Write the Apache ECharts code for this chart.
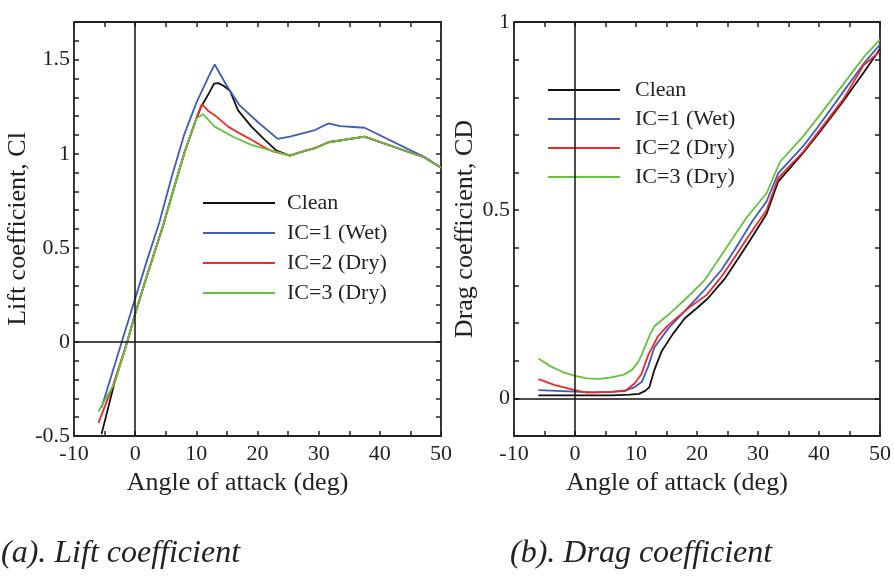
<!DOCTYPE html>
<html>
<head>
<meta charset="utf-8">
<script src="https://cdn.jsdelivr.net/npm/echarts@6/dist/echarts.min.js"></script>
<style>
html,body{margin:0;padding:0;background:#fff;}
#chart{width:894px;height:578px;}
</style>
</head>
<body>
<div id="chart"></div>
<script>
// ---------- Data ----------
var seriesNames = ['Clean', 'IC=1 (Wet)', 'IC=2 (Dry)', 'IC=3 (Dry)'];
var xTickLabels = [-10, 0, 10, 20, 30, 40, 50];
var liftTickLabels = [-0.5, 0, 0.5, 1, 1.5];
var dragTickLabels = [0, 0.5, 1];

// Lift coefficient (a)
var liftCleanAoA = [-5.5, -3.3, -1.3, 0, 2, 4.3, 6, 8.1, 10, 10.8, 12.2, 12.9, 13.6, 14.5, 15.5, 16.8, 19, 21.2, 23.1, 25.3, 27.7, 29.4, 31.6, 37.5, 47.3, 50];
var liftClean    = [-0.49, -0.207, 0, 0.15, 0.36, 0.59, 0.78, 1.01, 1.187, 1.25, 1.33, 1.372, 1.375, 1.36, 1.335, 1.232, 1.144, 1.074, 1.016, 0.99, 1.015, 1.03, 1.061, 1.091, 0.98, 0.925];
var liftIC1AoA   = [-5.5, -2.2, 0, 2, 4, 6, 8, 10, 12, 13, 15, 17, 20, 23.3, 25.3, 27.5, 29.4, 31.6, 33.5, 37.5, 47.3, 50];
var liftIC1      = [-0.35, 0, 0.23, 0.44, 0.64, 0.88, 1.1, 1.27, 1.41, 1.474, 1.36, 1.26, 1.17, 1.079, 1.091, 1.11, 1.126, 1.161, 1.147, 1.138, 0.982, 0.927];
var liftIC2AoA   = [-6, -3.6, -1.3, 0, 2, 4.3, 6, 8.1, 10, 10.9, 12, 13, 15.2, 17.1, 19, 20.9, 22.5, 25.3, 27.7, 29.4, 31.6, 37.5, 47.3, 50];
var liftIC2      = [-0.43, -0.23, 0, 0.15, 0.36, 0.59, 0.78, 1.01, 1.187, 1.263, 1.226, 1.205, 1.144, 1.108, 1.074, 1.038, 1.012, 0.99, 1.015, 1.03, 1.061, 1.091, 0.98, 0.925];
var liftIC3AoA   = [-6, -3.3, -1.3, 0, 2, 4.3, 6, 8.1, 10, 11.1, 13, 16, 19, 23.1, 25.3, 27.7, 29.4, 31.6, 37.5, 47.3, 50];
var liftIC3      = [-0.37, -0.216, 0, 0.15, 0.36, 0.59, 0.78, 1.01, 1.187, 1.21, 1.144, 1.09, 1.047, 1.01, 0.99, 1.015, 1.03, 1.061, 1.091, 0.98, 0.925];

// Drag coefficient (b)
var dragCleanAoA = [-6, -2, 2, 6, 9, 10.5, 11.5, 12.2, 13, 14.2, 16, 18, 20, 21.8, 24.6, 26.7, 28.7, 31.4, 33.3, 37.4, 40, 44, 47.5, 50];
var dragClean    = [0.008, 0.008, 0.008, 0.008, 0.01, 0.012, 0.02, 0.03, 0.075, 0.125, 0.17, 0.213, 0.24, 0.266, 0.319, 0.37, 0.42, 0.49, 0.576, 0.652, 0.705, 0.79, 0.87, 0.928];
var dragIC1AoA   = [-6, -3, 0, 3, 6, 8.5, 9.8, 11, 12, 13, 15.3, 17, 19, 21, 24, 26, 29.2, 31.4, 33.3, 37.4, 40, 44, 47.5, 50];
var dragIC1      = [0.022, 0.02, 0.018, 0.016, 0.017, 0.022, 0.03, 0.045, 0.085, 0.135, 0.186, 0.215, 0.25, 0.284, 0.341, 0.39, 0.474, 0.523, 0.598, 0.67, 0.725, 0.815, 0.893, 0.94];
var dragIC2AoA   = [-6, -3.3, 0, 1.9, 6, 8.2, 9.8, 10.9, 12, 13.6, 15, 16.9, 19, 21.6, 24, 26, 28, 29.5, 31.4, 33.3, 37.4, 40, 44, 47.3, 50];
var dragIC2      = [0.051, 0.035, 0.022, 0.015, 0.017, 0.019, 0.04, 0.065, 0.115, 0.165, 0.19, 0.217, 0.245, 0.275, 0.323, 0.37, 0.42, 0.456, 0.5, 0.585, 0.655, 0.71, 0.795, 0.885, 0.922];
var dragIC3AoA   = [-6, -4, -2, 0, 2, 4, 6, 8, 9.3, 10.3, 10.9, 12.3, 13.1, 15.3, 18, 21.3, 24.4, 28.1, 31.4, 33.6, 37.4, 40, 44, 47.5, 50];
var dragIC3      = [0.106, 0.085, 0.07, 0.06, 0.053, 0.052, 0.056, 0.063, 0.075, 0.095, 0.115, 0.17, 0.193, 0.222, 0.262, 0.315, 0.39, 0.48, 0.545, 0.628, 0.696, 0.75, 0.835, 0.91, 0.953];

// ---------- Build ----------
var colors = ['#111111', '#3d5cbc', '#f02828', '#66c23e'];
var FONT = '"Liberation Serif", "Times New Roman", serif';
var TXT = '#222';

function zip(a, b) { return a.map(function (x, i) { return [x, b[i]]; }); }
function inList(list, v) { return list.some(function (t) { return Math.abs(t - v) < 1e-6; }); }

var tickStyle = { show: true, inside: true, length: 5, lineStyle: { color: '#222', width: 1.5 } };

function xAxisMain(gi) {
  return {
    type: 'value', gridIndex: gi, min: -10, max: 50, interval: 5, position: 'bottom',
    axisLine: { show: false, onZero: false }, splitLine: { show: false },
    axisTick: tickStyle,
    axisLabel: { margin: 7, fontSize: 22, fontFamily: FONT, color: TXT,
      formatter: function (v) { return inList(xTickLabels, v) ? String(Math.round(v)) : ''; } },
    name: 'Angle of attack (deg)', nameLocation: 'middle', nameGap: 27,
    nameTextStyle: { fontSize: 26, fontFamily: FONT, color: TXT, padding: [0, 40, 0, 0] }
  };
}
function xAxisTop(gi) {
  return {
    type: 'value', gridIndex: gi, min: -10, max: 50, interval: 5, position: 'top',
    axisLine: { show: false, onZero: false }, splitLine: { show: false }, axisLabel: { show: false },
    axisTick: tickStyle
  };
}
function yAxisMain(gi, min, max, labels, name, gap) {
  return {
    type: 'value', gridIndex: gi, min: min, max: max, interval: 0.1, position: 'left',
    axisLine: { show: false, onZero: false }, splitLine: { show: false },
    axisTick: tickStyle,
    axisLabel: { margin: 4, fontSize: 22, fontFamily: FONT, color: TXT,
      formatter: function (v) { return inList(labels, v) ? String(Math.round(v * 10) / 10) : ''; } },
    name: name, nameLocation: 'middle', nameRotate: 90, nameGap: gap,
    nameTextStyle: { fontSize: 26, fontFamily: FONT, color: TXT }
  };
}
function yAxisRight(gi, min, max) {
  return {
    type: 'value', gridIndex: gi, min: min, max: max, interval: 0.1, position: 'right',
    axisLine: { show: false, onZero: false }, splitLine: { show: false }, axisLabel: { show: false },
    axisTick: tickStyle
  };
}
function lineSeries(name, data, ci, xi, yi, withZero) {
  var s = {
    type: 'line', name: name, xAxisIndex: xi, yAxisIndex: yi, data: data,
    symbol: 'none', showSymbol: false, smooth: false, animation: false,
    color: colors[ci], lineStyle: { color: colors[ci], width: 1.8 }
  };
  if (withZero) {
    s.markLine = {
      silent: true, symbol: ['none', 'none'], animation: false,
      label: { show: false },
      lineStyle: { color: '#111', width: 1.5, type: 'solid' },
      data: [{ xAxis: 0 }, { yAxis: 0 }]
    };
  }
  return s;
}
function legendFor(left, top, gap, textPad) {
  return {
    orient: 'vertical', left: left, top: top, padding: 0, itemGap: gap,
    itemWidth: 72, itemHeight: 2, icon: 'rect', selectedMode: false,
    textStyle: { fontSize: 22, fontFamily: FONT, color: TXT, padding: [0, 0, 0, textPad] },
    data: seriesNames
  };
}
var captionStyle = { fontSize: 32, fontStyle: 'italic', fontWeight: 'normal', fontFamily: FONT, color: TXT };

var option = {
  backgroundColor: '#fff',
  animation: false,
  title: [
    { text: '(a). Lift coefficient', left: 1, top: 538, padding: 0, textStyle: captionStyle },
    { text: '(b). Drag coefficient', left: 510, top: 538, padding: 0, textStyle: captionStyle }
  ],
  legend: [legendFor(203, 192, 8, 7), legendFor(548, 79, 7, 10)],
  grid: [
    { left: 74, top: 22, width: 367, height: 414, show: true, borderColor: '#222', borderWidth: 1.8, backgroundColor: 'transparent' },
    { left: 514, top: 22, width: 366, height: 414, show: true, borderColor: '#222', borderWidth: 1.8, backgroundColor: 'transparent' }
  ],
  xAxis: [xAxisMain(0), xAxisMain(1), xAxisTop(0), xAxisTop(1)],
  yAxis: [
    yAxisMain(0, -0.5, 1.7, liftTickLabels, 'Lift coefficient, Cl', 36),
    yAxisMain(1, -0.1, 1, dragTickLabels, 'Drag coefficient, CD', 34),
    yAxisRight(0, -0.5, 1.7),
    yAxisRight(1, -0.1, 1)
  ],
  series: [
    lineSeries(seriesNames[0], zip(liftCleanAoA, liftClean), 0, 0, 0, true),
    lineSeries(seriesNames[1], zip(liftIC1AoA, liftIC1), 1, 0, 0, false),
    lineSeries(seriesNames[2], zip(liftIC2AoA, liftIC2), 2, 0, 0, false),
    lineSeries(seriesNames[3], zip(liftIC3AoA, liftIC3), 3, 0, 0, false),
    lineSeries(seriesNames[0], zip(dragCleanAoA, dragClean), 0, 1, 1, true),
    lineSeries(seriesNames[1], zip(dragIC1AoA, dragIC1), 1, 1, 1, false),
    lineSeries(seriesNames[2], zip(dragIC2AoA, dragIC2), 2, 1, 1, false),
    lineSeries(seriesNames[3], zip(dragIC3AoA, dragIC3), 3, 1, 1, false)
  ]
};

var chart = echarts.init(document.getElementById('chart'), null, { renderer: 'canvas' });
chart.setOption(option);
</script>
</body>
</html>
